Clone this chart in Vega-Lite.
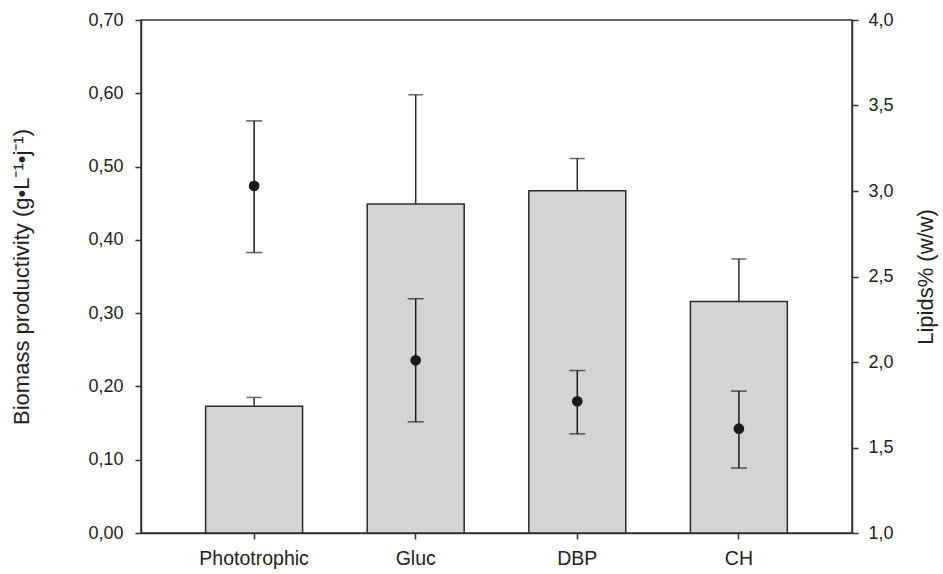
{
  "$schema": "https://vega.github.io/schema/vega-lite/v6.json",
  "autosize": "none",
  "width": 711,
  "height": 513,
  "padding": {"left": 141, "top": 20, "right": 91, "bottom": 41},
  "background": "white",
  "config": {
    "font": "Liberation Sans",
    "view": {"stroke": "#333333", "strokeWidth": 1.5},
    "axis": {
      "domainColor": "#333333",
      "domainWidth": 1.5,
      "tickColor": "#333333",
      "tickWidth": 1.5,
      "tickSize": 6,
      "labelFont": "Liberation Sans",
      "labelFontSize": 18,
      "labelColor": "#222222",
      "titleFont": "Liberation Sans",
      "titleFontSize": 22,
      "titleFontWeight": "normal",
      "titleColor": "#222222",
      "grid": false
    }
  },
  "data": {
    "values": [
      {"cond": "Phototrophic", "biomass": 0.173, "bio_hi": 0.185, "lipid": 3.03, "lip_lo": 2.64, "lip_hi": 3.41},
      {"cond": "Gluc", "biomass": 0.449, "bio_hi": 0.598, "lipid": 2.01, "lip_lo": 1.65, "lip_hi": 2.37},
      {"cond": "DBP", "biomass": 0.467, "bio_hi": 0.511, "lipid": 1.77, "lip_lo": 1.58, "lip_hi": 1.95},
      {"cond": "CH", "biomass": 0.316, "bio_hi": 0.374, "lipid": 1.61, "lip_lo": 1.38, "lip_hi": 1.83}
    ]
  },
  "encoding": {
    "x": {
      "field": "cond",
      "type": "nominal",
      "sort": ["Phototrophic", "Gluc", "DBP", "CH"],
      "scale": {"paddingInner": 0.4, "paddingOuter": 0.4},
      "axis": {"title": null, "labelAngle": 0, "labelPadding": 10, "labelFontSize": 19.5}
    }
  },
  "layer": [
    {
      "layer": [
        {
          "mark": {"type": "bar", "fill": "#d4d4d4", "stroke": "#2b2b2b", "strokeWidth": 1.5},
          "encoding": {
            "y": {
              "field": "biomass",
              "type": "quantitative",
              "scale": {"domain": [0, 0.7], "nice": false},
              "axis": {
                "title": "Biomass productivity (g•L⁻¹•j⁻¹)",
                "values": [0, 0.1, 0.2, 0.3, 0.4, 0.5, 0.6, 0.7],
                "labelExpr": "replace(format(datum.value, '.2f'), '.', ',')",
                "labelPadding": 12,
                "titlePadding": 54
              }
            }
          }
        },
        {
          "mark": {"type": "rule", "color": "#2b2b2b", "strokeWidth": 1.5},
          "encoding": {
            "y": {"field": "biomass", "type": "quantitative", "axis": {"title": "Biomass productivity (g•L⁻¹•j⁻¹)"}},
            "y2": {"field": "bio_hi"}
          }
        },
        {
          "mark": {"type": "tick", "color": "#2b2b2b", "size": 15, "thickness": 1.5},
          "encoding": {
            "y": {"field": "bio_hi", "type": "quantitative", "axis": {"title": "Biomass productivity (g•L⁻¹•j⁻¹)"}}
          }
        }
      ]
    },
    {
      "layer": [
        {
          "mark": {"type": "rule", "color": "#1a1a1a", "strokeWidth": 1.5},
          "encoding": {
            "y": {
              "field": "lip_lo",
              "type": "quantitative",
              "scale": {"domain": [1, 4], "nice": false},
              "axis": {
                "orient": "right",
                "title": "Lipids% (w/w)",
                "titleAngle": 270,
                "titleBaseline": "top",
                "values": [1, 1.5, 2, 2.5, 3, 3.5, 4],
                "labelExpr": "replace(format(datum.value, '.1f'), '.', ',')",
                "labelPadding": 10,
                "titlePadding": 22
              }
            },
            "y2": {"field": "lip_hi"}
          }
        },
        {
          "mark": {"type": "tick", "color": "#1a1a1a", "size": 16, "thickness": 1.5},
          "encoding": {
            "y": {"field": "lip_lo", "type": "quantitative", "axis": {"orient": "right", "title": "Lipids% (w/w)"}}
          }
        },
        {
          "mark": {"type": "tick", "color": "#1a1a1a", "size": 16, "thickness": 1.5},
          "encoding": {
            "y": {"field": "lip_hi", "type": "quantitative", "axis": {"orient": "right", "title": "Lipids% (w/w)"}}
          }
        },
        {
          "mark": {"type": "point", "filled": true, "color": "#1a1a1a", "size": 115, "opacity": 1},
          "encoding": {
            "y": {"field": "lipid", "type": "quantitative", "axis": {"orient": "right", "title": "Lipids% (w/w)"}}
          }
        }
      ]
    }
  ],
  "resolve": {"scale": {"y": "independent"}}
}
